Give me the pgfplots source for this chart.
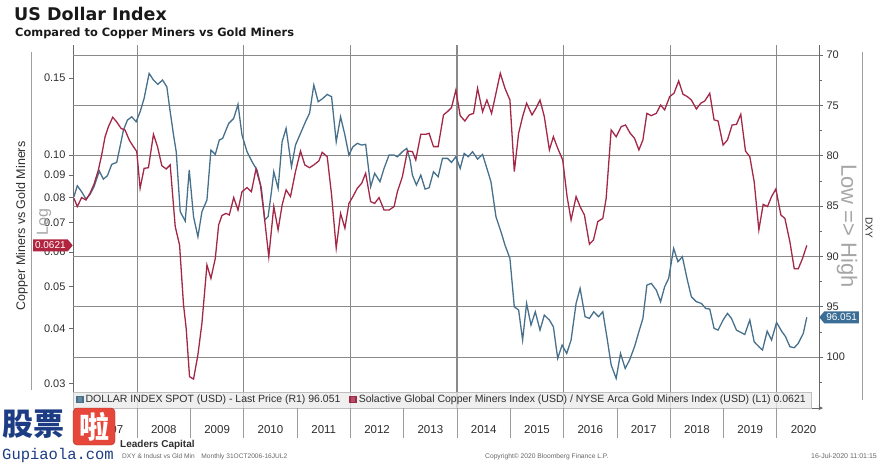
\documentclass[border=0pt]{standalone}
\usepackage{pgfplots}
\pgfplotsset{compat=1.18}
\usepackage{pgfplotstable}
\usepackage{fontspec}
\setmainfont{Liberation Sans}
\newfontfamily\dejavu{DejaVu Sans}
\newfontfamily\cjk{Noto Sans CJK SC}
\newfontfamily\mono{Liberation Mono}
\usetikzlibrary{shapes.symbols}
\definecolor{redline}{HTML}{A32848}
\definecolor{blueline}{HTML}{46708C}
\definecolor{redtag}{HTML}{B0243F}
\definecolor{bluetag}{HTML}{3B6E97}
\definecolor{gridc}{HTML}{8A8A8A}
\definecolor{axc}{HTML}{6A6A6A}
\definecolor{txt}{HTML}{2E2E2E}
\definecolor{navy}{HTML}{1C3C84}
\definecolor{wmred}{HTML}{E6473A}

\pgfplotstableread{
x y
2006.815 84.07
2006.878 82.98
2006.959 83.58
2007.041 84.30
2007.116 83.84
2007.191 83.08
2007.291 81.52
2007.367 82.32
2007.442 81.99
2007.523 80.86
2007.617 80.66
2007.692 78.77
2007.743 77.45
2007.818 76.46
2007.899 76.13
2007.981 76.62
2008.056 75.63
2008.131 74.30
2008.225 71.82
2008.306 72.48
2008.388 72.91
2008.476 72.48
2008.557 73.15
2008.620 75.63
2008.683 77.95
2008.733 79.60
2008.808 85.56
2008.902 86.49
2008.977 81.42
2009.058 86.06
2009.140 88.05
2009.215 85.56
2009.309 84.40
2009.384 79.44
2009.466 79.87
2009.541 78.44
2009.604 78.28
2009.717 76.79
2009.811 76.29
2009.892 74.90
2009.967 77.95
2010.061 79.60
2010.155 80.60
2010.249 81.42
2010.331 83.25
2010.393 86.39
2010.456 86.06
2010.519 83.58
2010.563 81.59
2010.644 83.25
2010.719 78.61
2010.794 77.28
2010.895 81.09
2010.970 78.94
2011.064 77.78
2011.158 76.62
2011.233 75.79
2011.314 72.98
2011.396 74.64
2011.484 74.30
2011.565 73.91
2011.647 74.14
2011.734 78.61
2011.816 76.13
2011.897 77.95
2011.972 79.93
2012.047 79.11
2012.129 78.77
2012.210 78.94
2012.286 78.87
2012.380 83.08
2012.455 81.75
2012.555 82.58
2012.631 81.26
2012.725 79.93
2012.819 79.93
2012.881 80.10
2012.975 79.60
2013.057 79.27
2013.119 80.43
2013.163 81.92
2013.238 82.91
2013.320 81.92
2013.401 83.31
2013.476 83.18
2013.558 81.59
2013.646 82.09
2013.727 80.26
2013.821 80.26
2013.896 80.66
2013.978 80.10
2014.059 81.26
2014.134 79.77
2014.210 80.10
2014.291 79.60
2014.385 80.33
2014.479 79.87
2014.560 81.26
2014.636 82.58
2014.730 86.06
2014.824 87.55
2014.899 88.87
2014.992 90.20
2015.074 95.00
2015.155 95.33
2015.230 98.31
2015.305 94.67
2015.387 96.82
2015.468 95.50
2015.556 97.32
2015.637 95.83
2015.732 96.32
2015.807 96.99
2015.888 100.13
2015.970 98.81
2016.057 99.64
2016.139 98.31
2016.233 94.67
2016.308 93.18
2016.402 95.99
2016.483 96.16
2016.565 95.50
2016.653 95.99
2016.734 95.50
2016.815 98.15
2016.891 100.79
2016.985 102.12
2017.066 99.64
2017.154 101.13
2017.235 100.30
2017.329 98.97
2017.411 97.48
2017.486 96.16
2017.561 92.85
2017.642 92.68
2017.737 93.34
2017.818 94.50
2017.894 93.01
2017.969 92.19
2018.063 89.21
2018.144 90.53
2018.226 90.03
2018.320 92.35
2018.395 94.01
2018.489 94.50
2018.583 94.67
2018.664 95.17
2018.740 95.23
2018.821 97.15
2018.896 97.32
2018.990 96.32
2019.072 95.66
2019.147 96.16
2019.241 97.32
2019.322 97.55
2019.397 97.75
2019.491 96.32
2019.573 98.48
2019.661 98.97
2019.729 99.30
2019.817 97.42
2019.899 98.31
2019.993 96.56
2020.087 97.42
2020.162 97.98
2020.243 98.97
2020.325 99.07
2020.400 98.64
2020.494 97.65
2020.560 96.05
}\dxy

\pgfplotstableread{
x y
2006.815 0.0796
2006.878 0.0762
2006.959 0.0799
2007.041 0.0789
2007.116 0.0817
2007.191 0.0857
2007.273 0.0924
2007.335 0.1000
2007.398 0.1100
2007.461 0.1160
2007.542 0.1220
2007.617 0.1190
2007.699 0.1150
2007.774 0.1140
2007.855 0.1080
2007.930 0.1045
2007.993 0.1018
2008.056 0.0839
2008.131 0.0932
2008.212 0.0935
2008.306 0.1115
2008.382 0.1045
2008.463 0.0945
2008.545 0.0929
2008.620 0.0949
2008.714 0.0686
2008.796 0.0622
2008.870 0.0454
2008.920 0.0401
2008.983 0.0311
2009.058 0.0307
2009.140 0.0349
2009.215 0.0412
2009.309 0.0560
2009.384 0.0522
2009.466 0.0580
2009.529 0.0692
2009.591 0.0727
2009.667 0.0735
2009.729 0.0729
2009.811 0.0799
2009.892 0.0748
2009.967 0.0824
2010.061 0.0842
2010.143 0.0824
2010.230 0.0929
2010.312 0.0854
2010.375 0.0742
2010.469 0.0585
2010.563 0.0762
2010.644 0.0674
2010.719 0.0768
2010.794 0.0832
2010.876 0.0803
2010.970 0.0916
2011.064 0.1021
2011.145 0.0949
2011.233 0.0935
2011.314 0.0949
2011.408 0.0969
2011.471 0.1014
2011.565 0.0991
2011.647 0.0810
2011.734 0.0612
2011.816 0.0735
2011.897 0.0680
2011.972 0.0775
2012.047 0.0803
2012.129 0.0839
2012.210 0.0861
2012.286 0.0908
2012.380 0.0782
2012.455 0.0775
2012.537 0.0799
2012.631 0.0748
2012.725 0.0748
2012.819 0.0762
2012.881 0.0824
2012.975 0.0892
2013.069 0.1021
2013.163 0.1018
2013.226 0.0974
2013.320 0.1115
2013.414 0.1115
2013.476 0.1121
2013.558 0.1045
2013.646 0.1045
2013.746 0.1235
2013.834 0.1261
2013.896 0.1283
2013.978 0.1408
2014.059 0.1230
2014.147 0.1196
2014.228 0.1235
2014.310 0.1245
2014.385 0.1421
2014.479 0.1256
2014.560 0.1336
2014.648 0.1245
2014.730 0.1384
2014.811 0.1538
2014.899 0.1421
2014.992 0.1336
2015.074 0.0916
2015.155 0.1121
2015.230 0.1224
2015.305 0.1313
2015.406 0.1235
2015.481 0.1279
2015.556 0.1336
2015.637 0.1224
2015.732 0.1027
2015.807 0.1101
2015.888 0.1036
2015.982 0.0974
2016.064 0.0803
2016.139 0.0710
2016.233 0.0803
2016.308 0.0762
2016.389 0.0729
2016.483 0.0625
2016.559 0.0639
2016.640 0.0704
2016.734 0.0716
2016.797 0.0796
2016.891 0.1141
2016.985 0.1101
2017.079 0.1161
2017.160 0.1171
2017.248 0.1121
2017.329 0.1092
2017.411 0.1027
2017.486 0.1082
2017.561 0.1245
2017.642 0.1230
2017.737 0.1245
2017.818 0.1301
2017.894 0.1268
2017.988 0.1360
2018.069 0.1384
2018.157 0.1477
2018.238 0.1377
2018.320 0.1360
2018.395 0.1336
2018.489 0.1274
2018.570 0.1313
2018.646 0.1329
2018.740 0.1384
2018.821 0.1203
2018.896 0.1196
2018.990 0.1054
2019.072 0.1082
2019.159 0.1171
2019.241 0.1175
2019.322 0.1239
2019.410 0.1021
2019.491 0.0991
2019.573 0.0869
2019.661 0.0674
2019.742 0.0771
2019.823 0.0762
2019.899 0.0803
2019.980 0.0836
2020.074 0.0729
2020.149 0.0716
2020.243 0.0633
2020.325 0.0549
2020.400 0.0549
2020.481 0.0580
2020.560 0.0621
}\ratio

\begin{document}
\begin{tikzpicture}
\path[use as bounding box] (0,0) rectangle (892pt,-466pt);
% titles
\node[anchor=base west, inner sep=0, text=black!90] at (14pt,-20.7pt) {\dejavu\bfseries\fontsize{17.5}{20}\selectfont US Dollar Index};
\node[anchor=base west, inner sep=0, text=black!90] at (15pt,-36pt) {\dejavu\bfseries\fontsize{11.4}{13}\selectfont Compared to Copper Miners vs Gold Miners};
% outer decorative lines
\draw[gray!75, line width=0.9pt] (31pt,-52pt) -- (31pt,-390pt);
\draw[gray!75, line width=0.9pt] (862pt,-52pt) -- (862pt,-400pt);
% axis frame lines
\draw[axc, line width=1pt] (73pt,-45pt) -- (73pt,-408pt);
\draw[axc, line width=1pt] (819pt,-45pt) -- (819pt,-408pt);
\draw[axc, line width=1pt, -stealth] (73pt,-408pt) -- (823pt,-408pt);

% right axis: DXY (inverted)
\begin{axis}[
  at={(73pt,-45pt)}, anchor=north west,
  width=746pt, height=363pt, scale only axis,
  xmin=2006.797, xmax=2020.789,
  ymin=69.0, ymax=105.06, y dir=reverse,
  clip mode=individual,
  axis line style={draw=none},
  xtick={2008,2010,2012,2014,2016,2018,2020}, xticklabels={},
  every x tick/.style={draw=none},
  xmajorgrids, ymajorgrids,
  major grid style={draw=gridc, line width=1.1pt},
  ytick={70,75,80,85,90,95,100},
  yticklabels={70,75,80,85,90,95,100},
  minor ytick={72.5,77.5,82.5,87.5,92.5,97.5,102.5},
  ytick pos=right,
  tick align=outside,
  major tick length=4pt, minor tick length=3pt,
  tick style={axc, line width=0.8pt},
  yticklabel style={font=\fontsize{11}{13}\selectfont, text=txt},
  legend columns=2,
  legend style={at={(0,0)}, anchor=south west, fill=black!8, fill opacity=0.8, text opacity=1,
    draw=black!25, font=\fontsize{10.5}{12}\selectfont, text=txt, inner xsep=3pt, inner ysep=1.5pt,
    /tikz/every even column/.append style={column sep=7pt}},
  legend cell align=left,
  legend image code/.code={\fill[#1] (0pt,-3pt) rectangle (6pt,3pt);},
]
\addplot[blueline, line width=1.3pt] table[x=x, y=y] {\dxy};
\addlegendentry{DOLLAR INDEX SPOT (USD) - Last Price (R1) 96.051}
\addlegendimage{redline, line width=1.3pt}
\addlegendentry{Solactive Global Copper Miners Index (USD) / NYSE Arca Gold Miners Index (USD) (L1) 0.0621}
\node[signal, signal to=west, signal pointer angle=100, fill=bluetag, text=white,
  font=\fontsize{10}{12}\selectfont, inner xsep=2pt, inner ysep=2.5pt, anchor=west]
  at (axis cs:2020.789,96.051) {96.051};
\end{axis}

% left axis: copper miners / gold miners (log)
\begin{axis}[
  at={(73pt,-45pt)}, anchor=north west,
  width=746pt, height=363pt, scale only axis,
  xmin=2006.797, xmax=2020.789,
  ymode=log, ymin=0.02636, ymax=0.1785,
  clip mode=individual,
  axis line style={draw=none},
  ytick={0.03,0.04,0.05,0.06,0.07,0.08,0.09,0.1,0.15},
  yticklabels={0.03,0.04,0.05,0.06,0.07,0.08,0.09,0.10,0.15},
  yminorticks=false,
  ytick pos=left,
  xtick={2007.5,2008.5,2009.5,2010.5,2011.5,2012.5,2013.5,2014.5,2015.5,2016.5,2017.5,2018.5,2019.5,2020.5},
  xticklabels={2007,2008,2009,2010,2011,2012,2013,2014,2015,2016,2017,2018,2019,2020},
  every x tick/.style={draw=none},
  xtick pos=left,
  tick align=outside, major tick length=4pt,
  tick style={axc, line width=0.8pt},
  yticklabel style={font=\fontsize{11}{13}\selectfont, text=txt},
  xticklabel style={font=\fontsize{11.5}{13}\selectfont, text=txt, yshift=-10pt},
]
\addplot[redline, line width=1.3pt] table[x=x, y=y] {\ratio};
\pgfplotsinvokeforeach{2007,...,2020}{
  \draw[gridc!85, line width=0.9pt] (axis cs:#1,0.02636) -- ++(0pt,-30pt);
}
\node[signal, signal to=east, signal pointer angle=100, fill=redtag, text=white,
  font=\fontsize{10}{12}\selectfont, inner xsep=2pt, inner ysep=2.5pt, anchor=east]
  at (axis cs:2006.797,0.0621) {0.0621};
\end{axis}

% side labels
\node[rotate=90, font=\fontsize{12.5}{14}\selectfont, text=txt] at (22pt,-226pt) {Copper Miners vs Gold Miners};
\node[rotate=90, font=\fontsize{16}{18}\selectfont, text=black!35] at (44pt,-222pt) {Log};
\node[rotate=-90, font=\fontsize{22}{24}\selectfont, text=black!35] at (847pt,-226pt) {Low => High};
\node[rotate=-90, font=\fontsize{10}{12}\selectfont, text=txt] at (869pt,-228pt) {DXY};

% footer
\node[anchor=base west, inner sep=0, font=\bfseries\fontsize{10}{12}\selectfont, text=txt] at (120pt,-447pt) {Leaders Capital};
\node[anchor=base west, inner sep=0, font=\fontsize{6.6}{8}\selectfont, text=black!60] at (122pt,-458pt) {DXY \& Indust vs Gld Min\quad Monthly 31OCT2006-16JUL2};
\node[anchor=base west, inner sep=0, font=\fontsize{6.7}{8}\selectfont, text=black!60] at (485pt,-458pt) {Copyright\textcopyright{} 2020 Bloomberg Finance L.P.};
\node[anchor=base east, inner sep=0, font=\fontsize{7}{8}\selectfont, text=black!60] at (877pt,-458pt) {16-Jul-2020 11:01:15};

% watermark
\node[anchor=west, inner sep=0, text=navy] at (2pt,-424pt) {\cjk\bfseries\fontsize{31}{31}\selectfont 股票};
\node[fill=wmred, draw=wmred!70!black, rounded corners=4pt, minimum width=42pt, minimum height=37pt, inner sep=0, text=white] at (94pt,-426.5pt) {\cjk\bfseries\fontsize{30}{30}\selectfont 啦};
\node[anchor=west, inner sep=0, text=navy] at (2pt,-455pt) {\mono\fontsize{15.5}{16}\selectfont Gupiaola.com};
\end{tikzpicture}
\end{document}
